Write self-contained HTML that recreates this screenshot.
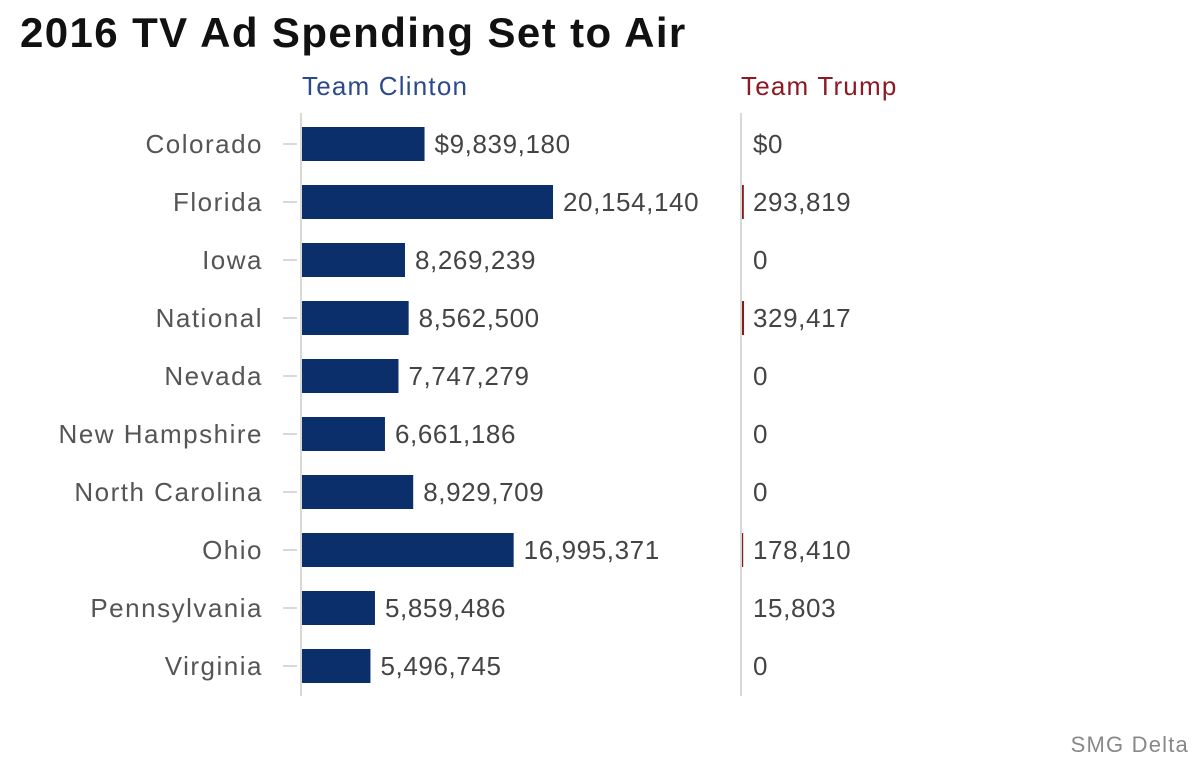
<!DOCTYPE html>
<html><head><meta charset="utf-8"><style>
body{margin:0;background:#fff;width:1200px;height:759px;overflow:hidden;font-family:"Liberation Sans",sans-serif}
</style></head><body>
<svg id="chart" width="1200" height="759" xmlns="http://www.w3.org/2000/svg" font-family="Liberation Sans, sans-serif">
<text x="20" y="47" font-size="42" font-weight="bold" fill="#111" letter-spacing="1.4">2016 TV Ad Spending Set to Air</text>
<text x="302" y="95" font-size="26" fill="#2b4a8a" letter-spacing="1.2">Team Clinton</text>
<text x="741" y="95" font-size="26" fill="#8b1a22" letter-spacing="1.2">Team Trump</text>
<line x1="301" y1="113" x2="301" y2="696" stroke="#ccc" stroke-width="1.5"/>
<line x1="741" y1="113" x2="741" y2="696" stroke="#ccc" stroke-width="1.5"/>
<g id="rows"></g>
<text x="1189" y="752" font-size="22" fill="#888" text-anchor="end" letter-spacing="1.2">SMG Delta</text>
</svg>
<script>
const categories=["Colorado","Florida","Iowa","National","Nevada","New Hampshire","North Carolina","Ohio","Pennsylvania","Virginia"];
const clintonValues=[9839180,20154140,8269239,8562500,7747279,6661186,8929709,16995371,5859486,5496745];
const trumpValues=[0,293819,0,329417,0,0,0,178410,15803,0];
const clintonLabels=["$9,839,180","20,154,140","8,269,239","8,562,500","7,747,279","6,661,186","8,929,709","16,995,371","5,859,486","5,496,745"];
const trumpLabels=["$0","293,819","0","329,417","0","0","0","178,410","15,803","0"];
const NS="http://www.w3.org/2000/svg";
const maxV=20154140, barW=251;
const x=v=>v/maxV*barW;
const y=i=>144+i*58;
const g=document.getElementById('rows');
function mk(t,a){const e=document.createElementNS(NS,t);for(const k in a)e.setAttribute(k,a[k]);g.appendChild(e);return e;}
categories.forEach((c,i)=>{
  const cy=y(i);
  let t=mk('text',{x:263,y:cy+9,'font-size':26,fill:'#555','text-anchor':'end','letter-spacing':1.5});t.textContent=c;
  
  
  let tk=mk('line',{x1:283,x2:297,y1:cy,y2:cy,stroke:'#ccc','stroke-width':1.5});
  
  
  const w=x(clintonValues[i]);
  let b=mk('rect',{x:302,y:cy-17,width:w,height:34,fill:'#0a2f6b'});
  
  
  let v=mk('text',{x:302+w+10,y:cy+9,'font-size':26,fill:'#444','letter-spacing':0.6});v.textContent=clintonLabels[i];
  
  
  const tw=x(trumpValues[i]);
  if(tw>0.5){let tb=mk('rect',{x:742,y:cy-17,width:Math.max(tw*0.5,1.2),height:34,fill:'#8b1a1a'});
    
    }
  let tv=mk('text',{x:753,y:cy+9,'font-size':26,fill:'#444','letter-spacing':0.6});tv.textContent=trumpLabels[i];
  
  
});
</script>
</body></html>
